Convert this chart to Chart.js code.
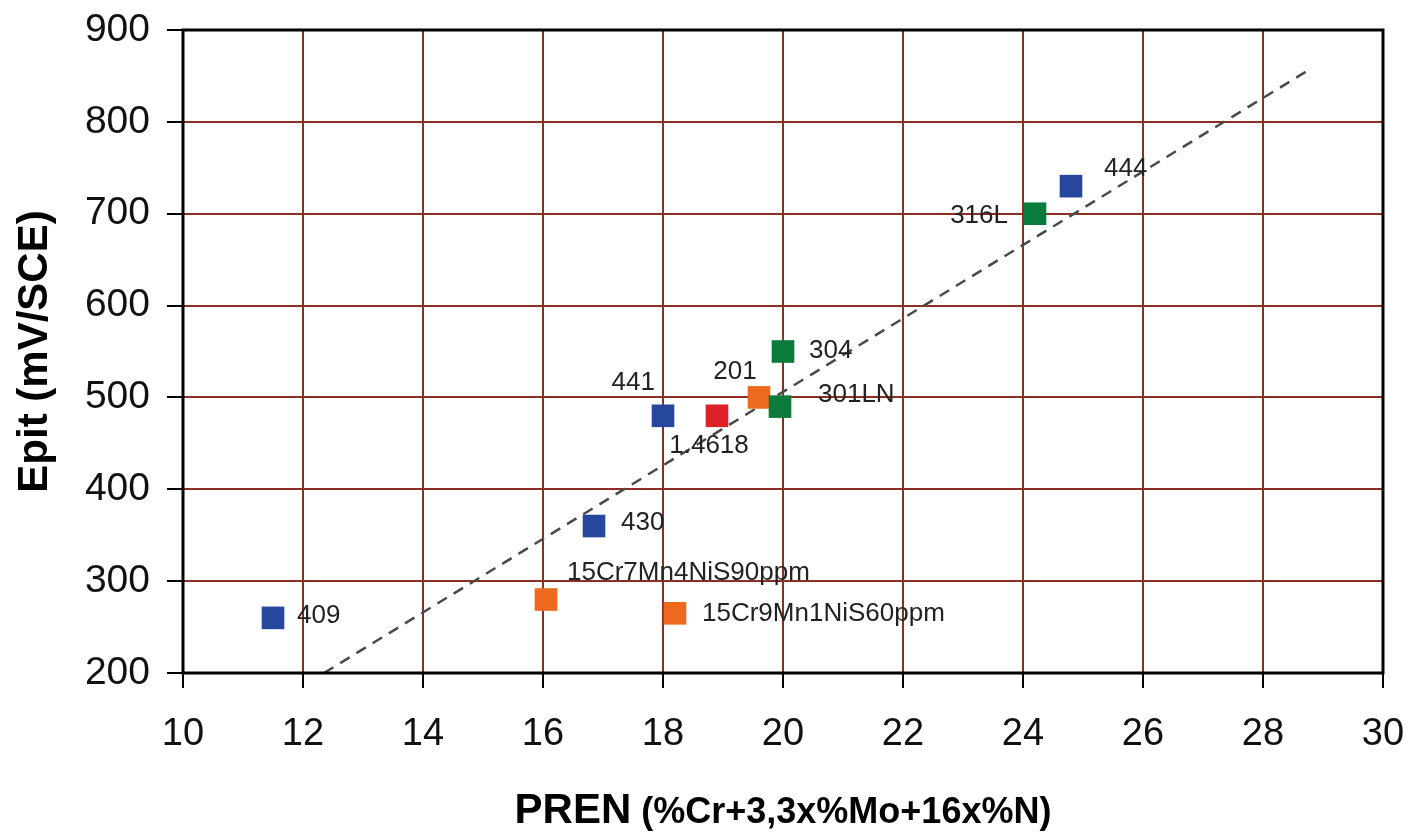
<!DOCTYPE html>
<html>
<head>
<meta charset="utf-8">
<script src="https://cdn.jsdelivr.net/npm/chart.js@4/dist/chart.umd.min.js"></script>
<style>
  html, body { margin: 0; padding: 0; background: #fff; }
  #wrap { width: 1411px; height: 832px; }
</style>
</head>
<body>
<div id="wrap"><canvas id="scatterChart" width="1411" height="832"></canvas></div>
<script>
// PREN vs pitting potential, grouped by colour in the original figure
const blueNames = ['409', '430', '441', '444'];
const bluePren = [11.5, 16.85, 18.0, 24.8];
const blueEpit = [260, 360, 480, 730];

const greenNames = ['304', '301LN', '316L'];
const greenPren = [20.0, 19.95, 24.2];
const greenEpit = [550, 490, 700];

const orangeNames = ['201', '15Cr7Mn4NiS90ppm', '15Cr9Mn1NiS60ppm'];
const orangePren = [19.6, 16.05, 18.2];
const orangeEpit = [500, 280, 265];

const redNames = ['1.4618'];
const redPren = [18.9];
const redEpit = [480];

// dashed trend line end points
const trendPren = [12.35, 28.8];
const trendEpit = [200, 858];

const xTicks = [10, 12, 14, 16, 18, 20, 22, 24, 26, 28, 30];
const yTicks = [200, 300, 400, 500, 600, 700, 800, 900];

const toPoints = (xs, ys) => xs.map((x, i) => ({ x: x, y: ys[i] }));

// where each point label sits relative to its marker
const labelPlace = {
    '409': { dx: 24, dy: -2, align: 'left' },
    '430': { dx: 27, dy: -3, align: 'left' },
    '441': { dx: -8, dy: -33, align: 'right' },
    '444': { dx: 33, dy: -17, align: 'left' },
    '304': { dx: 26, dy: -1, align: 'left' },
    '301LN': { dx: 38, dy: -12, align: 'left' },
    '316L': { dx: -27, dy: 2, align: 'right' },
    '201': { dx: -24, dy: -26, align: 'center' },
    '15Cr7Mn4NiS90ppm': { dx: 21, dy: -27, align: 'left' },
    '15Cr9Mn1NiS60ppm': { dx: 27, dy: 1, align: 'left' },
    '1.4618': { dx: -8, dy: 30, align: 'center' }
};

const pointLabels = {
    id: 'pointLabels',
    afterDatasetsDraw(chart) {
        const ctx = chart.ctx;
        ctx.save();
        ctx.font = '26px "Liberation Sans", Arial, sans-serif';
        ctx.fillStyle = '#222';
        ctx.textBaseline = 'middle';
        chart.data.datasets.forEach((ds, di) => {
            if (!ds.names) return;
            const meta = chart.getDatasetMeta(di);
            meta.data.forEach((el, i) => {
                const name = ds.names[i];
                const p = labelPlace[name] || { dx: 20, dy: 0, align: 'left' };
                ctx.textAlign = p.align;
                ctx.fillText(name, el.x + p.dx, el.y + p.dy);
            });
        });
        ctx.restore();
    }
};

const frameAndTitles = {
    id: 'frameAndTitles',
    afterDraw(chart) {
        const ctx = chart.ctx;
        const a = chart.chartArea;
        ctx.save();
        // black frame round the plot
        ctx.strokeStyle = '#000';
        ctx.lineWidth = 3;
        ctx.strokeRect(a.left, a.top, a.right - a.left, a.bottom - a.top);

        // x title with two font sizes
        const big = 'PREN';
        const small = ' (%Cr+3,3x%Mo+16x%N)';
        const bigFont = 'bold 42px "Liberation Sans", Arial, sans-serif';
        const smallFont = 'bold 36px "Liberation Sans", Arial, sans-serif';
        ctx.fillStyle = '#000';
        ctx.textBaseline = 'alphabetic';
        ctx.textAlign = 'left';
        ctx.font = bigFont;
        const wBig = ctx.measureText(big).width;
        ctx.font = smallFont;
        const wSmall = ctx.measureText(small).width;
        let x0 = (a.left + a.right) / 2 - (wBig + wSmall) / 2;
        ctx.font = bigFont;
        ctx.fillText(big, x0, 823);
        ctx.font = smallFont;
        ctx.fillText(small, x0 + wBig, 823);

        // y title
        ctx.translate(35, (a.top + a.bottom) / 2);
        ctx.rotate(-Math.PI / 2);
        ctx.textAlign = 'center';
        ctx.textBaseline = 'middle';
        ctx.font = 'bold 42px "Liberation Sans", Arial, sans-serif';
        ctx.fillText('Epit (mV/SCE)', 0, 0);
        ctx.restore();
    }
};

const markerStyle = {
    pointStyle: 'rect',
    pointRadius: 16,
    pointHoverRadius: 16,
    borderWidth: 0,
    showLine: false
};

const ctx = document.getElementById('scatterChart').getContext('2d');
const scatterChart = new Chart(ctx, {
    type: 'scatter',
    data: {
        datasets: [
            Object.assign({ label: 'blue', names: blueNames, data: toPoints(bluePren, blueEpit),
                backgroundColor: '#27479c', borderColor: '#27479c' }, markerStyle),
            Object.assign({ label: 'green', names: greenNames, data: toPoints(greenPren, greenEpit),
                backgroundColor: '#0b7b3b', borderColor: '#0b7b3b' }, markerStyle),
            Object.assign({ label: 'orange', names: orangeNames, data: toPoints(orangePren, orangeEpit),
                backgroundColor: '#ec691e', borderColor: '#ec691e' }, markerStyle),
            Object.assign({ label: 'red', names: redNames, data: toPoints(redPren, redEpit),
                backgroundColor: '#de2129', borderColor: '#de2129' }, markerStyle),
            {
                label: 'trend',
                type: 'line',
                data: toPoints(trendPren, trendEpit),
                borderColor: '#4a4a4a',
                borderWidth: 2.5,
                borderDash: [11, 8],
                pointRadius: 0,
                fill: false
            }
        ]
    },
    options: {
        responsive: false,
        animation: false,
        layout: { padding: { top: 30, right: 28, left: 0, bottom: 0 } },
        plugins: {
            legend: { display: false },
            tooltip: { enabled: false }
        },
        scales: {
            x: {
                type: 'linear',
                min: 10,
                max: 30,
                afterFit: (s) => {
                    s.height = 159;
                    s.paddingLeft = 0;
                    s.paddingRight = 0;
                },
                afterBuildTicks: (s) => { s.ticks = xTicks.map(v => ({ value: v })); },
                grid: { color: '#8c2e24', lineWidth: 2, tickColor: '#000', tickLength: 15 },
                border: { display: false },
                ticks: {
                    color: '#111',
                    padding: 24,
                    maxRotation: 0,
                    font: { family: '"Liberation Sans", Arial, sans-serif', size: 38 }
                }
            },
            y: {
                min: 200,
                max: 900,
                afterFit: (s) => {
                    s.width = 183;
                    s.paddingTop = 0;
                    s.paddingBottom = 0;
                },
                afterBuildTicks: (s) => { s.ticks = yTicks.map(v => ({ value: v })); },
                grid: { color: '#8c2e24', lineWidth: 2, tickColor: '#000', tickLength: 16 },
                border: { display: false },
                ticks: {
                    color: '#111',
                    padding: 17,
                    font: { family: '"Liberation Sans", Arial, sans-serif', size: 39 }
                }
            }
        }
    },
    plugins: [pointLabels, frameAndTitles]
});
</script>
</body>
</html>
